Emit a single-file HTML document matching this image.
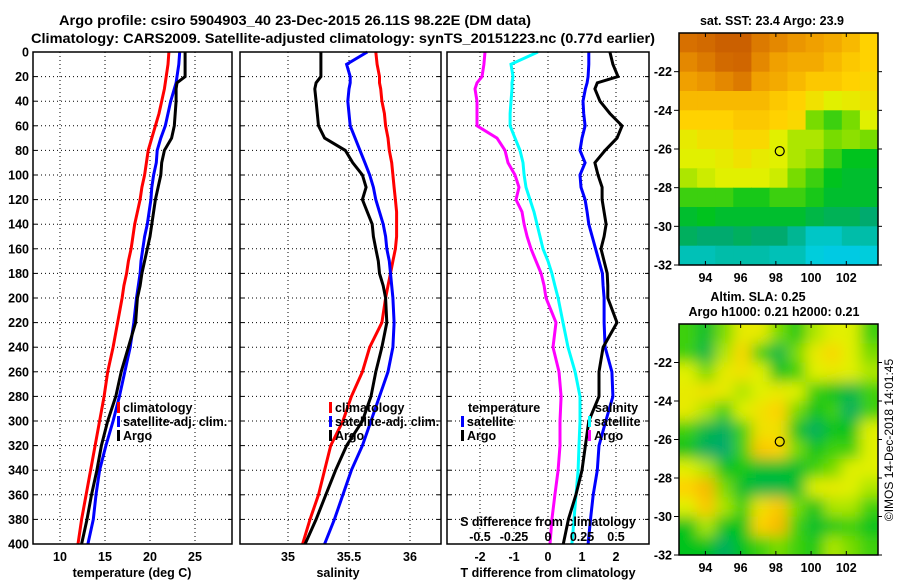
<!DOCTYPE html>
<html><head><meta charset="utf-8"><style>
html,body{margin:0;padding:0;background:#fff;}
svg{display:block;font-family:"Liberation Sans",Arial,sans-serif;font-weight:bold;}
</style></head><body>
<svg id="fig" width="900" height="580" viewBox="0 0 900 580" xmlns="http://www.w3.org/2000/svg">
<defs>
<filter id="blur" x="0" y="0" width="1" height="1"><feGaussianBlur stdDeviation="7"/></filter>
<clipPath id="clipA"><rect x="679" y="33" width="199" height="232"/></clipPath>
<clipPath id="clipB"><rect x="679" y="324" width="199" height="231"/></clipPath>
</defs>
<text x="295" y="25" text-anchor="middle" font-size="14" textLength="472" lengthAdjust="spacingAndGlyphs">Argo profile: csiro 5904903_40 23-Dec-2015 26.11S 98.22E (DM data)</text>
<text x="343" y="43" text-anchor="middle" font-size="14" textLength="624" lengthAdjust="spacingAndGlyphs">Climatology: CARS2009. Satellite-adjusted climatology: synTS_20151223.nc (0.77d earlier)</text>
<text x="772" y="25" text-anchor="middle" font-size="12.5">sat. SST: 23.4 Argo: 23.9</text>
<text x="758" y="301" text-anchor="middle" font-size="12.5">Altim. SLA: 0.25</text>
<text x="774" y="316" text-anchor="middle" font-size="12.5">Argo h1000: 0.21 h2000: 0.21</text>
<text transform="translate(893,440) rotate(-90)" text-anchor="middle" font-size="12" font-weight="normal">©IMOS 14-Dec-2018 14:01:45</text>
<g id="g"></g>
</svg>
<script>
// ---------- profile data ----------
const depths = [0,10,20,25,30,40,50,60,70,80,90,100,110,120,130,140,150,160,170,180,190,200,220,240,260,280,300,320,340,360,380,400];
const climT = [22.1,22.0,21.8,21.7,21.6,21.3,21.0,20.6,20.2,19.8,19.6,19.4,19.1,18.9,18.6,18.3,18.1,17.9,17.6,17.4,17.1,16.9,16.4,15.9,15.3,14.9,14.4,13.9,13.4,12.9,12.4,12.0];
const satT  = [23.3,23.2,23.0,22.9,22.7,22.3,22.0,21.7,21.2,20.8,20.7,20.4,20.2,20.1,19.9,19.7,19.4,19.2,19.0,18.9,18.7,18.5,18.2,17.8,17.2,16.6,15.9,15.1,14.4,14.0,13.7,13.1];
const argoT = [23.9,23.9,23.9,23.0,22.9,22.9,22.8,22.7,22.4,21.6,21.3,21.2,20.9,20.6,20.4,20.2,20.0,19.7,19.4,19.1,18.9,18.6,18.4,17.6,16.8,16.2,15.3,14.6,14.1,13.5,13.0,12.4];
const climS = [35.72,35.73,35.75,35.75,35.76,35.77,35.79,35.80,35.82,35.83,35.85,35.86,35.87,35.88,35.89,35.89,35.89,35.88,35.86,35.84,35.82,35.80,35.77,35.67,35.61,35.52,35.45,35.35,35.30,35.25,35.18,35.12];
const satS  = [35.65,35.48,35.51,35.51,35.50,35.49,35.50,35.51,35.55,35.59,35.63,35.67,35.70,35.72,35.75,35.78,35.80,35.81,35.83,35.84,35.85,35.86,35.87,35.86,35.82,35.75,35.68,35.61,35.52,35.45,35.38,35.30];
const argoS = [35.27,35.27,35.27,35.23,35.22,35.23,35.24,35.25,35.30,35.47,35.53,35.61,35.64,35.61,35.65,35.69,35.70,35.72,35.74,35.75,35.78,35.80,35.81,35.77,35.72,35.68,35.61,35.48,35.39,35.31,35.23,35.14];
const argoTdiff = [1.82,1.91,2.06,1.45,1.38,1.53,1.82,2.18,2.03,1.68,1.38,1.47,1.59,1.59,1.65,1.71,1.65,1.56,1.65,1.74,1.76,1.76,2.03,1.62,1.5,1.5,1.2,1.1,1.0,0.82,0.6,0.45];
const satTdiff  = [1.2,1.2,1.18,1.15,1.1,1.03,1.05,1.09,1.0,0.94,1.09,0.94,0.97,1.09,1.15,1.2,1.3,1.4,1.5,1.6,1.62,1.65,1.65,1.68,1.88,1.91,1.7,1.5,1.45,1.33,1.25,1.18];
const argoSdiff = [-0.463,-0.471,-0.485,-0.522,-0.537,-0.522,-0.522,-0.522,-0.375,-0.316,-0.294,-0.243,-0.213,-0.235,-0.191,-0.176,-0.154,-0.125,-0.088,-0.051,-0.029,-0.015,0.059,0.037,0.081,0.096,0.088,0.088,0.074,0.051,0.029,0.015];
const satSdiff  = [-0.074,-0.272,-0.257,-0.265,-0.265,-0.272,-0.279,-0.279,-0.243,-0.206,-0.184,-0.176,-0.162,-0.132,-0.103,-0.081,-0.059,-0.037,0,0.029,0.051,0.074,0.110,0.147,0.199,0.235,0.235,0.228,0.221,0.206,0.191,0.176];
const depthTicks = [0,20,40,60,80,100,120,140,160,180,200,220,240,260,280,300,320,340,360,380,400];
const tempTicks = [10,15,20,25];
const salTicks = [35,35.5,36];
const tdiffTicks = [-2,-1,0,1,2];
const sdiffTicks = [-0.5,-0.25,0,0.25,0.5];
const sdiffLabels = ["-0.5","-0.25","0","0.25","0.5"];
// ---------- map data (coarse grids, rows from north to south) ----------
const sstGrid = [
[0.9,0.92,0.95,0.95,0.88,0.85,0.82,0.8,0.78,0.75,0.7],
[0.85,0.88,0.92,0.93,0.85,0.8,0.78,0.78,0.75,0.72,0.7],
[0.8,0.82,0.85,0.88,0.8,0.78,0.75,0.72,0.72,0.7,0.68],
[0.75,0.75,0.75,0.75,0.75,0.72,0.7,0.65,0.6,0.62,0.65],
[0.7,0.7,0.7,0.72,0.72,0.7,0.68,0.5,0.45,0.5,0.6],
[0.62,0.65,0.65,0.68,0.68,0.6,0.55,0.55,0.5,0.52,0.5],
[0.6,0.6,0.62,0.65,0.62,0.6,0.55,0.52,0.45,0.4,0.4],
[0.55,0.58,0.6,0.6,0.6,0.58,0.5,0.45,0.4,0.38,0.38],
[0.45,0.45,0.45,0.42,0.42,0.45,0.45,0.42,0.38,0.38,0.38],
[0.38,0.4,0.38,0.38,0.38,0.38,0.38,0.35,0.33,0.33,0.3],
[0.32,0.3,0.3,0.32,0.3,0.3,0.25,0.18,0.18,0.22,0.22],
[0.2,0.2,0.22,0.22,0.22,0.2,0.2,0.15,0.12,0.12,0.15]];
const slaGrid = [
[0.45,0.38,0.5,0.62,0.62,0.5,0.42,0.55,0.6,0.6,0.45],
[0.45,0.35,0.55,0.68,0.45,0.35,0.5,0.62,0.68,0.6,0.5],
[0.6,0.5,0.62,0.65,0.6,0.4,0.45,0.6,0.62,0.6,0.55],
[0.62,0.65,0.62,0.55,0.6,0.62,0.6,0.45,0.4,0.35,0.45],
[0.62,0.55,0.45,0.6,0.65,0.7,0.5,0.4,0.45,0.32,0.45],
[0.45,0.35,0.32,0.45,0.65,0.65,0.4,0.32,0.4,0.4,0.6],
[0.4,0.32,0.3,0.45,0.72,0.7,0.5,0.4,0.45,0.45,0.6],
[0.6,0.55,0.4,0.42,0.38,0.38,0.38,0.45,0.5,0.6,0.6],
[0.7,0.75,0.5,0.38,0.35,0.35,0.38,0.6,0.62,0.6,0.55],
[0.6,0.72,0.55,0.45,0.65,0.72,0.5,0.4,0.55,0.55,0.45],
[0.4,0.55,0.4,0.4,0.7,0.75,0.45,0.38,0.42,0.45,0.4],
[0.4,0.4,0.32,0.4,0.45,0.5,0.45,0.42,0.55,0.5,0.45]];
const lonTicks = [94,96,98,100,102];
const latTicks = [-22,-24,-26,-28,-30,-32];
const argoLon = 98.22, argoLat = -26.11;

const NS = "http://www.w3.org/2000/svg";
const G = document.getElementById('g');
function mk(tag, attrs, parent, txt){
  const e = document.createElementNS(NS, tag);
  for (const k in attrs) e.setAttribute(k, attrs[k]);
  if (txt !== undefined) e.textContent = txt;
  (parent||G).appendChild(e);
  return e;
}
const yD = d => 52 + d*1.23;
const xT = t => 60 + (t-10)*9;
const xS = s => 288 + (s-35)*122;
const xDT = v => 548 + v*34;
const xDS = v => 548 + v*136;
const panels = [{x0:33,x1:232,name:'temperature-panel'},{x0:240,x1:441,name:'salinity-panel'},{x0:447,x1:649,name:'difference-panel'}];
const Y0 = yD(0), Y1 = yD(400);

panels.forEach(p=>{
  depthTicks.forEach(d=>{
    if(d===0||d===400) return;
    const l = mk('line',{x1:p.x0,x2:p.x1,y1:yD(d),y2:yD(d),stroke:'#000','stroke-width':1,'stroke-dasharray':'1,3'});
    
    
    mk('line',{x1:p.x0,x2:p.x0+4,y1:yD(d),y2:yD(d),stroke:'#000'});
    mk('line',{x1:p.x1-4,x2:p.x1,y1:yD(d),y2:yD(d),stroke:'#000'});
  });
});
function vgrid(ticks, fx, labels, y){
  ticks.forEach((t,i)=>{
    const l = mk('line',{x1:fx(t),x2:fx(t),y1:Y0,y2:Y1,stroke:'#000','stroke-width':1,'stroke-dasharray':'1,3'});
    
    
    const tx = mk('text',{x:fx(t),y:y,'text-anchor':'middle','font-size':12.5}, G, labels ? labels[i] : String(t));
    
    
  });
}
vgrid(tempTicks, xT, null, 561);
vgrid(salTicks, xS, null, 561);
vgrid(tdiffTicks, xDT, null, 561);
depthTicks.forEach(d=>{
  const t = mk('text',{x:29,y:yD(d)+4.5,'text-anchor':'end','font-size':12.5}, G, String(d));
  
  
});

function line(xs, color, name){
  const pts = depths.map((d,i)=>xs[i].toFixed(1)+','+yD(d).toFixed(1)).join(' ');
  const pl = mk('polyline',{points:pts,fill:'none',stroke:color,'stroke-width':3,'stroke-linejoin':'miter'});
  
  
}
line(climT.map(xT),'#ff0000','climatology-temperature-line');
line(satT.map(xT),'#0000ff','satellite-temperature-line');
line(argoT.map(xT),'#000000','argo-temperature-line');
line(climS.map(xS),'#ff0000','climatology-salinity-line');
line(satS.map(xS),'#0000ff','satellite-salinity-line');
line(argoS.map(xS),'#000000','argo-salinity-line');
line(argoSdiff.map(xDS),'#ff00ff','argo-salinity-difference-line');
line(satSdiff.map(xDS),'#00ffff','satellite-salinity-difference-line');
line(satTdiff.map(xDT),'#0000ff','satellite-temperature-difference-line');
line(argoTdiff.map(xDT),'#000000','argo-temperature-difference-line');

panels.forEach(p=>{
  const r = mk('rect',{x:p.x0,y:Y0,width:p.x1-p.x0,height:Y1-Y0,fill:'none',stroke:'#000','stroke-width':1.5});
  
  
});
sdiffTicks.forEach((t,i)=>{
  const tx = mk('text',{x:xDS(t),y:541,'text-anchor':'middle','font-size':12.5}, G, sdiffLabels[i]);
  
  
});
function txt(x,y,s,name,anchor,size){
  const t = mk('text',{x:x,y:y,'text-anchor':anchor||'start','font-size':size||12.5}, G, s);
  
  
}
txt(548,526,'S difference from climatology','s-difference-axis-title','middle');
txt(132,577,'temperature (deg C)','temperature-axis-title','middle');
txt(338,577,'salinity','salinity-axis-title','middle');
txt(548,577,'T difference from climatology','t-difference-axis-title','middle');

function legend(x, y, color, label, name){
  const r = mk('rect',{x:x,y:y-10,width:3,height:11,fill:color});
  
  
  txt(x+6, y, label, name);
}
legend(117,412,'#ff0000','climatology','legend-climatology');
legend(117,426,'#0000ff','satellite-adj. clim.','legend-satellite-adj');
legend(117,440,'#000000','Argo','legend-argo');
legend(329,412,'#ff0000','climatology','legend-sal-climatology');
legend(329,426,'#0000ff','satellite-adj. clim.','legend-sal-satellite-adj');
legend(329,440,'#000000','Argo','legend-sal-argo');
txt(468,412,'temperature','legend-temperature-header');
legend(461,426,'#0000ff','satellite','legend-diff-t-satellite');
legend(461,440,'#000000','Argo','legend-diff-t-argo');
txt(595,412,'salinity','legend-salinity-header');
legend(588,426,'#00ffff','satellite','legend-diff-s-satellite');
legend(588,440,'#ff00ff','Argo','legend-diff-s-argo');

const stops = [[0,[0,190,255]],[0.15,[0,205,220]],[0.3,[0,170,110]],[0.4,[0,195,30]],[0.5,[120,220,0]],[0.6,[225,240,0]],[0.7,[255,210,0]],[0.8,[240,160,0]],[0.9,[215,112,0]],[1,[190,80,0]]];
function cmap(v){
  for(let i=1;i<stops.length;i++){
    if(v<=stops[i][0]){
      const a=stops[i-1],b=stops[i],f=(v-a[0])/(b[0]-a[0]);
      return 'rgb('+a[1].map((c,k)=>Math.round(c+(b[1][k]-c)*f)).join(',')+')';
    }
  }
  return 'rgb(190,80,0)';
}
function drawMap(grid, top, h, clip, blur, name){
  const lon0=92.5, lon1=103.8, lat0=-20, lat1=-32;
  const mx = lon => 679 + (lon-lon0)/(lon1-lon0)*199;
  const my = lat => top + (lat-lat0)/(lat1-lat0)*h;
  const g = mk('g',{'clip-path':'url(#'+clip+')'});
  
  
  const inner = mk('g', blur?{filter:'url(#blur)'}:{}, g);
  const rows = grid.length, cols = grid[0].length;
  const cw = 199/cols, ch = h/rows;
  if(blur){ mk('rect',{x:679-20,y:top-20,width:240,height:h+40,fill:cmap(0.45)},inner); }
  grid.forEach((row,r)=>row.forEach((v,c)=>{
    const cell = mk('rect',{x:(679+c*cw - (blur&&c===0?20:0)).toFixed(1),y:(top+r*ch - (blur&&r===0?20:0)).toFixed(1),width:(cw+0.6+(blur&&(c===0||c===cols-1)?20:0)).toFixed(1),height:(ch+0.6+(blur&&(r===0||r===rows-1)?20:0)).toFixed(1),fill:cmap(v)}, inner);
    
    
  }));
  const fr = mk('rect',{x:679,y:top,width:199,height:h,fill:'none',stroke:'#000','stroke-width':1.5});
  
  
  lonTicks.forEach(l=>{
    mk('line',{x1:mx(l),x2:mx(l),y1:top,y2:top+4,stroke:'#000'});
    mk('line',{x1:mx(l),x2:mx(l),y1:top+h-4,y2:top+h,stroke:'#000'});
    txt(mx(l), top+h+17, String(l), 'map-lon-tick-label','middle');
  });
  latTicks.forEach(l=>{
    mk('line',{x1:674,x2:679,y1:my(l),y2:my(l),stroke:'#000'});
    mk('line',{x1:878,x2:882,y1:my(l),y2:my(l),stroke:'#000'});
    txt(672, my(l)+4.5, String(l), 'map-lat-tick-label','end');
  });
  const c = mk('circle',{cx:mx(argoLon),cy:my(argoLat),r:4.5,fill:'none',stroke:'#000','stroke-width':1.2});
  
  
}
drawMap(sstGrid, 33, 232, 'clipA', false, 'sst-map');
drawMap(slaGrid, 324, 231, 'clipB', true, 'sla-map');
</script>
</body></html>
